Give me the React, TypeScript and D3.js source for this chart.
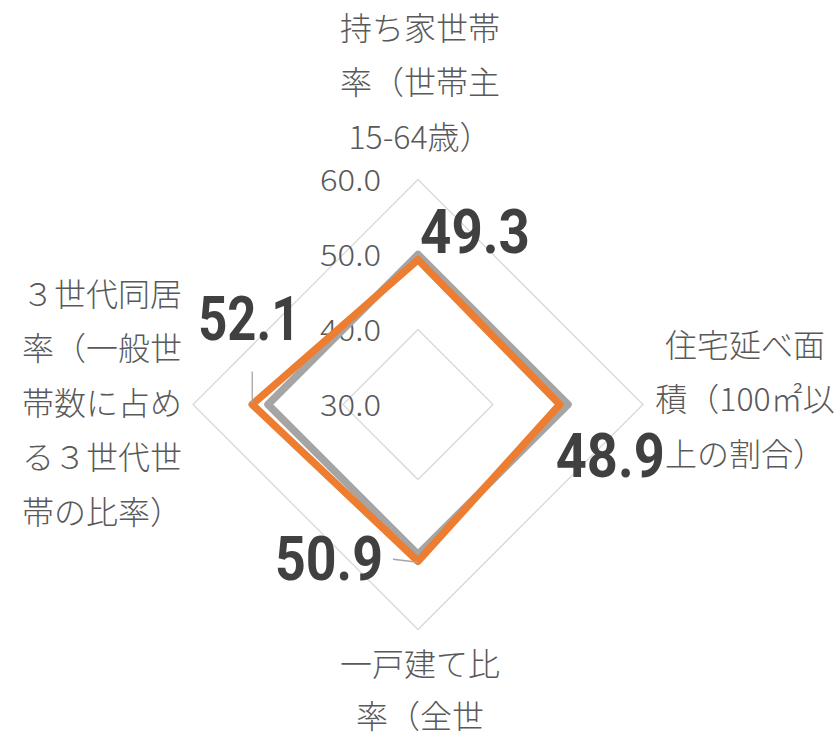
import React from "react";
import * as d3 from "d3";

const categories = [
  ["持ち家世帯", "率（世帯主", "15-64歳）"],
  ["住宅延べ面", "積（100㎡以", "上の割合）"],
  ["一戸建て比", "率（全世"],
  ["３世代同居", "率（一般世", "帯数に占め", "る３世代世", "帯の比率）"],
];
const baseline = [50, 50, 50, 50];
const prefecture = [49.3, 48.9, 50.9, 52.1];
const ticks = [30, 40, 50, 60];
const tickLabels = ["30.0", "40.0", "50.0", "60.0"];

const W = 840;
const H = 735;
const cx = 418;
const cy = 404.5;
const R = 225;

export default function App() {
  const r = d3.scaleLinear().domain([30, 60]).range([0, R]);
  const angle = (i: number) => (i * Math.PI * 2) / categories.length;
  const pt = (i: number, v: number): [number, number] => [
    cx + r(v) * Math.sin(angle(i)),
    cy - r(v) * Math.cos(angle(i)),
  ];
  const line = d3.line<[number, number]>().curve(d3.curveLinearClosed);
  const ring = (v: number) => line(categories.map((_, i) => pt(i, v)));
  const series = (vals: number[]) => line(vals.map((v, i) => pt(i, v)));

  const font = "'Noto Sans CJK JP', 'Noto Sans', sans-serif";
  const txt = "#595959";

  const catPos: [number, number][] = [
    [420, 28],
    [745, 345],
    [420, 664],
    [102, 294],
  ];
  const lhs = [54.5, 54.5, 52, 54.5];

  const p = prefecture.map((v, i) => pt(i, v));
  const dl = [
    { x: p[0][0] + 2, y: p[0][1] - 7, w: 110 },
    { x: p[1][0] - 4, y: p[1][1] + 72, w: 109 },
    { x: p[2][0] - 143, y: p[2][1] + 19, w: 108 },
    { x: p[3][0] - 54, y: p[3][1] - 65, w: 102 },
  ];

  return (
    <div style={{ position: "absolute", left: 0, top: 0 }}>
      <svg width={W} height={H} style={{ display: "block", background: "#fff" }}>
        {ticks.slice(1).map((t) => (
          <path key={t} d={ring(t) || ""} fill="none" stroke="#D9D9D9" strokeWidth={1.3} />
        ))}
        {ticks.map((t, k) => (
          <text
            key={"t" + t}
            x={381}
            y={cy - r(t) + 11}
            textAnchor="end"
            fontFamily={font}
            fontSize={30}
            fontWeight={300}
            fill={txt}
            textLength={61}
            lengthAdjust="spacingAndGlyphs"
          >
            {tickLabels[k]}
          </text>
        ))}
        <path d={series(baseline) || ""} fill="none" stroke="#A5A5A5" strokeWidth={7.5} strokeLinejoin="round" />
        <path d={series(prefecture) || ""} fill="none" stroke="#ED7D31" strokeWidth={7.5} strokeLinejoin="round" />
        <line x1={p[3][0]} y1={p[3][1] - 2} x2={p[3][0]} y2={p[3][1] - 33} stroke="#A5A5A5" strokeWidth={1.3} />
        <line x1={p[2][0]} y1={p[2][1] + 1} x2={p[2][0] - 25} y2={p[2][1] - 2} stroke="#A5A5A5" strokeWidth={1.3} />
        {prefecture.map((v, i) => (
          <text
            key={"d" + i}
            x={dl[i].x}
            y={dl[i].y}
            fontFamily="Roboto, 'Noto Sans', sans-serif"
            fontWeight={700}
            fontSize={62}
            fill="#404040"
            textLength={dl[i].w}
            lengthAdjust="spacingAndGlyphs"
          >
            {v.toFixed(1)}
          </text>
        ))}
        {categories.map((lines, i) =>
          lines.map((s, j) => (
            <text
              key={"c" + i + "_" + j}
              x={catPos[i][0]}
              y={catPos[i][1] + j * lhs[i]}
              dy="0.36em"
              textAnchor="middle"
              fontFamily={font}
              fontWeight={300}
              fontSize={32}
              fill={txt}
            >
              {s}
            </text>
          ))
        )}
      </svg>
    </div>
  );
}
